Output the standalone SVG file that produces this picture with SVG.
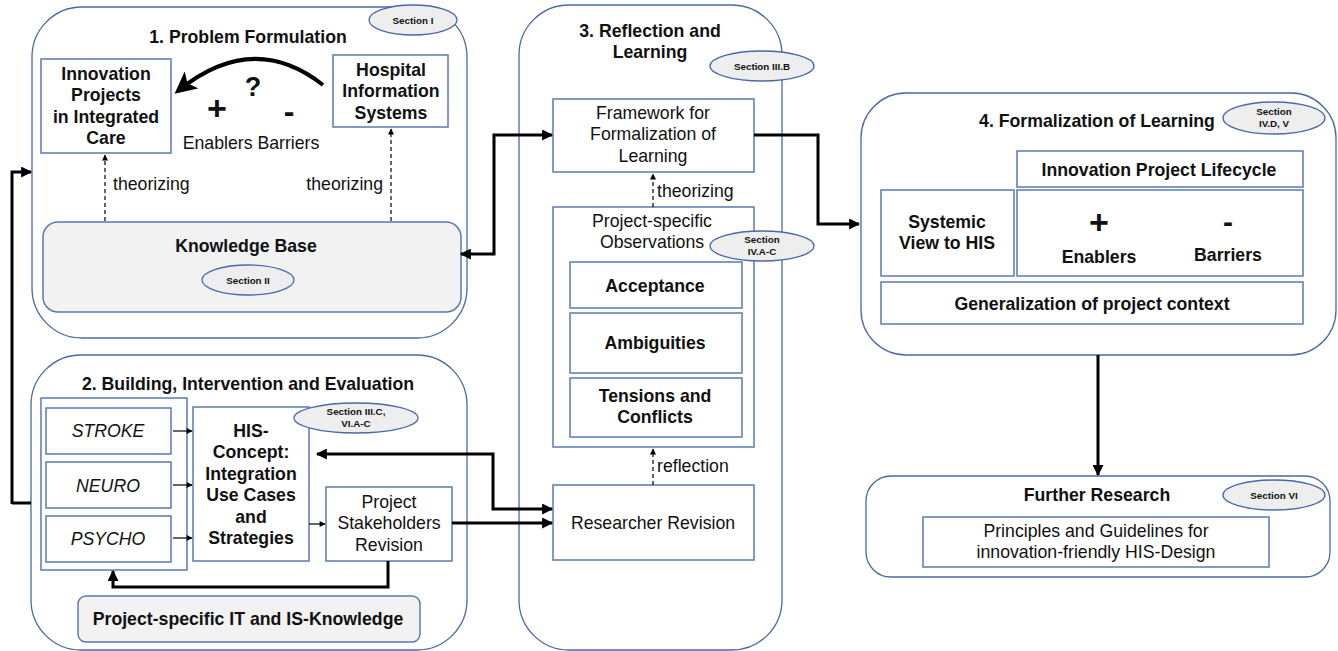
<svg xmlns="http://www.w3.org/2000/svg" width="1338" height="651" viewBox="0 0 1338 651">
<style>
text{font-family:"Liberation Sans",Arial,sans-serif;fill:#111;text-anchor:middle}
.b{font-weight:bold}
.t{font-size:17.7px;font-weight:bold}
.n{font-size:17.7px}
.sec{font-size:9.8px;font-weight:bold}
.outer{fill:#fff;stroke:#4a68a8;stroke-width:1.3}
.box{fill:#fff;stroke:#5b79b5;stroke-width:1.5}
.gray{fill:#f2f2f2;stroke:#5b79b5;stroke-width:1.5}
.ell{fill:#eeeeee;stroke:#4a68a8;stroke-width:1.3}
.thick{fill:none;stroke:#000;stroke-width:3}
.thin{fill:none;stroke:#000;stroke-width:1.2}
.dash{fill:none;stroke:#000;stroke-width:1.2;stroke-dasharray:4,3}
</style>
<defs>
<marker id="ab" viewBox="0 0 10 10" refX="9" refY="5" markerWidth="13" markerHeight="11" markerUnits="userSpaceOnUse" orient="auto-start-reverse"><path d="M0,0 L10,5 L0,10 z" fill="#000"/></marker>
<marker id="as" viewBox="0 0 10 10" refX="9" refY="5" markerWidth="7" markerHeight="6" markerUnits="userSpaceOnUse" orient="auto"><path d="M0,0 L10,5 L0,10 z" fill="#000"/></marker>
<marker id="ac" viewBox="0 0 10 10" refX="8" refY="5" markerWidth="22" markerHeight="22" markerUnits="userSpaceOnUse" orient="auto"><path d="M0,0 L10,5 L0,10 L2.5,5 z" fill="#000"/></marker>
</defs>

<g id="box1">
<rect class="outer" x="32" y="7" width="435" height="331" rx="50"/>
<ellipse class="ell" cx="413" cy="20" rx="44" ry="15"/>
<text class="sec" x="413" y="24">Section I</text>
<text class="t" x="248" y="43">1. Problem Formulation</text>
</g>

<g id="innovation-projects">
<rect class="box" x="41" y="59" width="130" height="94"/>
<text class="t" x="106" y="80">Innovation</text>
<text class="t" x="106" y="101">Projects</text>
<text class="t" x="106" y="123">in Integrated</text>
<text class="t" x="106" y="144">Care</text>
</g>

<g id="his">
<rect class="box" x="333" y="55" width="115" height="72"/>
<text class="t" x="391" y="76">Hospital</text>
<text class="t" x="391" y="97">Information</text>
<text class="t" x="391" y="119">Systems</text>
</g>

<g id="enablers-barriers">
<text class="b" x="253" y="96" style="font-size:27px">?</text>
<text class="b" x="217" y="120" style="font-size:34px">+</text>
<text class="b" x="289" y="122" style="font-size:32px">-</text>
<text class="n" x="251" y="149">Enablers Barriers</text>
</g>

<g id="knowledge-base">
<rect class="gray" x="43" y="222" width="418" height="90" rx="15"/>
<text class="t" x="246" y="252">Knowledge Base</text>
<ellipse class="ell" cx="248" cy="280" rx="46" ry="15"/>
<text class="sec" x="248" y="284">Section II</text>
</g>

<g id="box2">
<rect class="outer" x="31" y="355" width="436" height="295" rx="50"/>
<text class="t" x="248" y="390">2. Building, Intervention and Evaluation</text>
<rect class="box" x="41" y="398" width="146" height="172"/>
</g>

<g id="stroke"><rect class="box" x="46" y="408" width="125" height="46"/><text class="n" x="108" y="437" font-style="italic">STROKE</text></g>
<g id="neuro"><rect class="box" x="46" y="462" width="125" height="46"/><text class="n" x="108" y="492" font-style="italic">NEURO</text></g>
<g id="psycho"><rect class="box" x="46" y="516" width="125" height="46"/><text class="n" x="108" y="545" font-style="italic">PSYCHO</text></g>

<g id="his-concept">
<rect class="box" x="193" y="407" width="116" height="154"/>
<text class="t" x="251" y="437">HIS-</text>
<text class="t" x="251" y="458">Concept:</text>
<text class="t" x="251" y="480">Integration</text>
<text class="t" x="251" y="501">Use Cases</text>
<text class="t" x="251" y="523">and</text>
<text class="t" x="251" y="544">Strategies</text>
<ellipse class="ell" cx="356" cy="418" rx="62" ry="15"/>
<text class="sec" x="356" y="415">Section III.C,</text>
<text class="sec" x="356" y="427">VI.A-C</text>
</g>

<g id="stakeholders">
<rect class="box" x="326" y="487" width="126" height="74"/>
<text class="n" x="389" y="508">Project</text>
<text class="n" x="389" y="529">Stakeholders</text>
<text class="n" x="389" y="551">Revision</text>
</g>

<g id="it-knowledge">
<rect class="gray" x="78" y="596" width="342" height="46" rx="8"/>
<text class="t" x="248" y="625">Project-specific IT and IS-Knowledge</text>
</g>

<g id="box3">
<rect class="outer" x="519" y="5" width="263" height="645" rx="50"/>
<text class="t" x="650" y="37">3. Reflection and</text>
<text class="t" x="650" y="58">Learning</text>
<ellipse class="ell" cx="762" cy="66" rx="52" ry="15"/>
<text class="sec" x="762" y="70">Section III.B</text>
</g>

<g id="framework">
<rect class="box" x="553" y="99" width="201" height="73"/>
<text class="n" x="653" y="119">Framework for</text>
<text class="n" x="653" y="140">Formalization of</text>
<text class="n" x="653" y="162">Learning</text>
</g>

<g id="observations">
<rect class="box" x="553" y="207" width="201" height="240"/>
<text class="n" x="652" y="227">Project-specific</text>
<text class="n" x="652" y="248">Observations</text>
<ellipse class="ell" cx="762" cy="246" rx="52" ry="15"/>
<text class="sec" x="762" y="243">Section</text>
<text class="sec" x="762" y="255">IV.A-C</text>
</g>

<g id="acceptance"><rect class="box" x="570" y="262" width="172" height="46"/><text class="t" x="655" y="292">Acceptance</text></g>
<g id="ambiguities"><rect class="box" x="570" y="313" width="172" height="60"/><text class="t" x="655" y="349">Ambiguities</text></g>
<g id="tensions"><rect class="box" x="570" y="378" width="172" height="59"/><text class="t" x="655" y="402">Tensions and</text><text class="t" x="655" y="423">Conflicts</text></g>

<g id="researcher-revision">
<rect class="box" x="553" y="485" width="201" height="75"/>
<text class="n" x="653" y="529">Researcher Revision</text>
</g>

<g id="box4">
<rect class="outer" x="861" y="93" width="475" height="262" rx="45"/>
<text class="t" x="1097" y="127">4. Formalization of Learning</text>
<ellipse class="ell" cx="1274" cy="118" rx="51" ry="16"/>
<text class="sec" x="1274" y="115">Section</text>
<text class="sec" x="1274" y="127">IV.D, V</text>
</g>
<g id="lifecycle"><rect class="box" x="1017" y="151" width="286" height="36"/><text class="t" x="1159" y="176">Innovation Project Lifecycle</text></g>
<g id="systemic"><rect class="box" x="881" y="190" width="133" height="86"/><text class="t" x="947" y="228">Systemic</text><text class="t" x="947" y="249">View to HIS</text></g>
<g id="enablers-barriers-4">
<rect class="box" x="1017" y="190" width="286" height="86"/>
<text class="b" x="1099" y="234" style="font-size:34px">+</text>
<text class="b" x="1228" y="232" style="font-size:30px">-</text>
<text class="t" x="1099" y="263">Enablers</text>
<text class="t" x="1228" y="261">Barriers</text>
</g>
<g id="generalization"><rect class="box" x="881" y="282" width="422" height="42"/><text class="t" x="1092" y="310">Generalization of project context</text></g>

<g id="further-research">
<rect class="outer" x="866" y="476" width="464" height="101" rx="25"/>
<text class="t" x="1097" y="501">Further Research</text>
<ellipse class="ell" cx="1274" cy="495" rx="51" ry="15"/>
<text class="sec" x="1274" y="499">Section VI</text>
<rect class="box" x="923" y="517" width="346" height="50"/>
<text class="n" x="1096" y="537">Principles and Guidelines for</text>
<text class="n" x="1096" y="558">innovation-friendly HIS-Design</text>
</g>

<g id="connectors">
<path class="thick" d="M323,85 Q253,30 178,91" marker-end="url(#ac)" style="stroke-width:4"/>
<path class="dash" d="M105,221 V155" marker-end="url(#as)"/>
<path class="dash" d="M391,221 V129" marker-end="url(#as)"/>
<text class="n" x="113" y="190" style="text-anchor:start">theorizing</text>
<text class="n" x="383" y="190" style="text-anchor:end">theorizing</text>
<path class="thick" d="M12,503 H31 M12,504 V172 H31" marker-end="url(#ab)"/>
<path class="thin" d="M173,431 H192" marker-end="url(#as)"/>
<path class="thin" d="M173,485 H192" marker-end="url(#as)"/>
<path class="thin" d="M173,538 H192" marker-end="url(#as)"/>
<path class="thin" d="M309,524 H325" marker-end="url(#as)"/>
<path class="thick" d="M388,561 V587 H113 V571" marker-end="url(#ab)"/>
<path class="thick" d="M317,454 H493 V509 H552" marker-start="url(#ab)" marker-end="url(#ab)"/>
<path class="thick" d="M452,523 H552" marker-end="url(#ab)"/>
<path class="thick" d="M461,254 H494 V135 H552" marker-start="url(#ab)" marker-end="url(#ab)"/>
<path class="thick" d="M754,135 H818 V224 H859" marker-end="url(#ab)"/>
<path class="dash" d="M653,207 V174" marker-end="url(#as)"/>
<text class="n" x="657" y="197" style="text-anchor:start">theorizing</text>
<path class="dash" d="M653,485 V449" marker-end="url(#as)"/>
<text class="n" x="657" y="472" style="text-anchor:start">reflection</text>
<path class="thick" d="M1098,355 V475" marker-end="url(#ab)"/>
</g>
</svg>
